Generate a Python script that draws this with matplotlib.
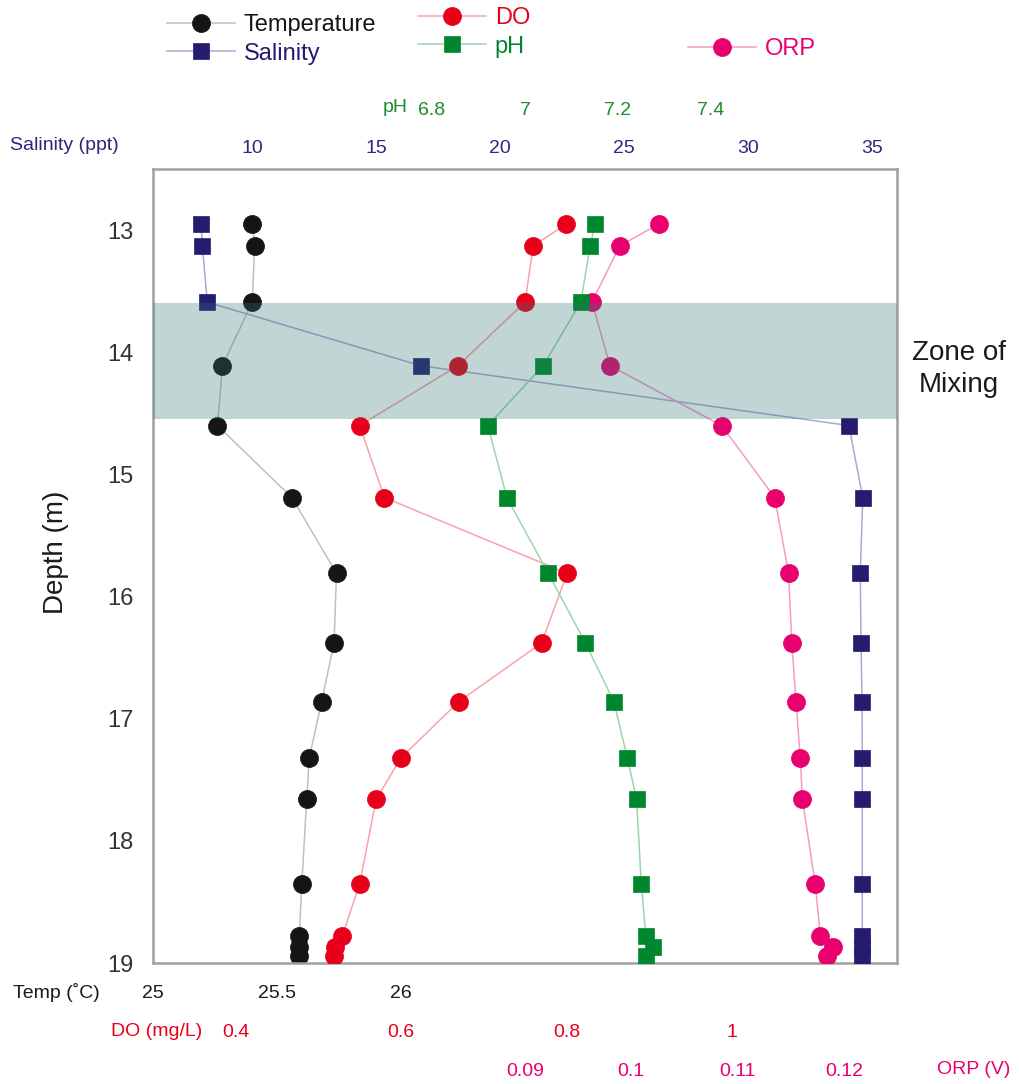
import matplotlib.pyplot as plt

plt.rcParams['font.family'] = ['Liberation Sans', 'DejaVu Sans']

# profile readings, top to bottom
depth = [12.95, 13.13, 13.59, 14.11, 14.60, 15.19, 15.81, 16.38, 16.86, 17.32,
         17.66, 18.35, 18.78, 18.87, 18.94]
temp = [25.40, 25.41, 25.40, 25.28, 25.26, 25.56, 25.74, 25.73, 25.68, 25.63,
        25.62, 25.60, 25.59, 25.59, 25.59]
salinity = [7.94, 7.99, 8.19, 16.79, 34.06, 34.62, 34.52, 34.55, 34.59, 34.60,
            34.60, 34.60, 34.60, 34.60, 34.60]
do = [0.800, 0.760, 0.750, 0.669, 0.550, 0.580, 0.801, 0.770, 0.670, 0.600,
      0.570, 0.550, 0.529, 0.520, 0.519]
ph = [7.151, 7.140, 7.120, 7.039, 6.920, 6.961, 7.050, 7.130, 7.191, 7.220,
      7.240, 7.250, 7.260, 7.276, 7.260]
orp = [0.1026, 0.0989, 0.0963, 0.0980, 0.1085, 0.1135, 0.1148, 0.1151, 0.1155,
       0.1159, 0.1161, 0.1173, 0.1178, 0.1190, 0.1184]
mixing_zone = (13.6, 14.55)

depth_ticks = [13, 14, 15, 16, 17, 18, 19]
temp_ticks = [25, 25.5, 26]
sal_ticks = [10, 15, 20, 25, 30, 35]
ph_ticks = [6.8, 7, 7.2, 7.4]
do_ticks = [0.4, 0.6, 0.8, 1]
orp_ticks = [0.09, 0.1, 0.11, 0.12]

C_TEMP, C_SAL, C_DO, C_PH, C_ORP = '#151515', '#241c6e', '#e8001a', '#00872e', '#e8006e'
W, H = 1020, 1084


def fx(px):
    return px / W


def fy(py):
    return 1 - py / H


fig = plt.figure(figsize=(W / 100, H / 100), dpi=100)
ax = fig.add_axes([fx(153), fy(963), 744 / W, 794 / H])

ax_sal = ax.twiny()
ax_orp = ax.twiny()
ax_do = ax.twiny()
ax_ph = ax.twiny()


def setup(a, lim, ticks, side, pad, color):
    a.set_xlim(lim)
    a.set_xticks(ticks)
    a.set_xticklabels([f'{t:g}' for t in ticks])
    a.xaxis.set_ticks_position(side)
    a.tick_params(axis='x', length=0, pad=pad, labelsize=14, labelcolor=color)


setup(ax, (25, 28), temp_ticks, 'bottom', 16, '#1a1a1a')
setup(ax_sal, (6, 36), sal_ticks, 'top', 9, '#2b2a7a')
setup(ax_ph, (6.2, 7.8), ph_ticks, 'top', 36, '#1e8c2a')
setup(ax_do, (0.3, 1.2), do_ticks, 'bottom', 44, C_DO)
setup(ax_orp, (0.055, 0.125), orp_ticks, 'bottom', 72, C_ORP)

for a in (ax_sal, ax_orp, ax_do, ax_ph):
    for s in a.spines.values():
        s.set_visible(False)
for s in ax.spines.values():
    s.set_color('#a0a0a0')
    s.set_linewidth(1.8)

ax.set_ylim(19, 12.5)
ax.set_yticks(depth_ticks)
ax.tick_params(axis='y', length=0, pad=14, labelsize=17, labelcolor='#333333')

style = dict(lw=1.1, mew=0.5)
l_temp, = ax.plot(temp, depth, color='#c0c0c0', marker='o', ms=13,
                  mfc=C_TEMP, mec=C_TEMP, **style)
l_sal, = ax_sal.plot(salinity, depth, color='#aaa9cf', marker='s', ms=12,
                     mfc=C_SAL, mec=C_SAL, **style)
l_orp, = ax_orp.plot(orp, depth, color='#f59bc4', marker='o', ms=13,
                     mfc=C_ORP, mec=C_ORP, **style)
l_do, = ax_do.plot(do, depth, color='#f7a3a8', marker='o', ms=13,
                   mfc=C_DO, mec=C_DO, **style)
l_ph, = ax_ph.plot(ph, depth, color='#9fd4ad', marker='s', ms=12,
                   mfc=C_PH, mec=C_PH, **style)

# translucent band over the mixing layer
ax_ph.axhspan(*mixing_zone, color='#307673', alpha=0.3, lw=0, zorder=10)

leg_kw = dict(loc='upper left', frameon=False, fontsize=17, handlelength=2.9,
              handletextpad=0.35, labelspacing=0.28, borderpad=0, borderaxespad=0,
              labelcolor='markerfacecolor')
fig.legend([l_temp, l_sal], ['Temperature', 'Salinity'],
           bbox_to_anchor=(fx(167), fy(14)), **leg_kw)
fig.legend([l_do, l_ph], ['DO', 'pH'],
           bbox_to_anchor=(fx(418), fy(7)), **leg_kw)
fig.legend([l_orp], ['ORP'],
           bbox_to_anchor=(fx(688), fy(38)), **leg_kw)

fig.text(fx(13), fy(993), 'Temp (˚C)', fontsize=14, color='#1a1a1a', va='center')
fig.text(fx(111), fy(1031), 'DO (mg/L)', fontsize=14, color=C_DO, va='center')
fig.text(fx(937), fy(1070), 'ORP (V)', fontsize=14, color=C_ORP, va='center')
fig.text(fx(10), fy(145), 'Salinity (ppt)', fontsize=14, color='#2b2a7a', va='center')
fig.text(fx(383), fy(108), 'pH', fontsize=14, color='#1e8c2a', va='center')
fig.text(fx(56), fy(552), 'Depth (m)', fontsize=20, color='#1a1a1a',
         rotation=90, ha='center', va='center')
fig.text(fx(959), fy(369), 'Zone of\nMixing', fontsize=20, color='#1a1a1a',
         ha='center', va='center', linespacing=1.3)

fig.savefig('out.png', dpi=100)
